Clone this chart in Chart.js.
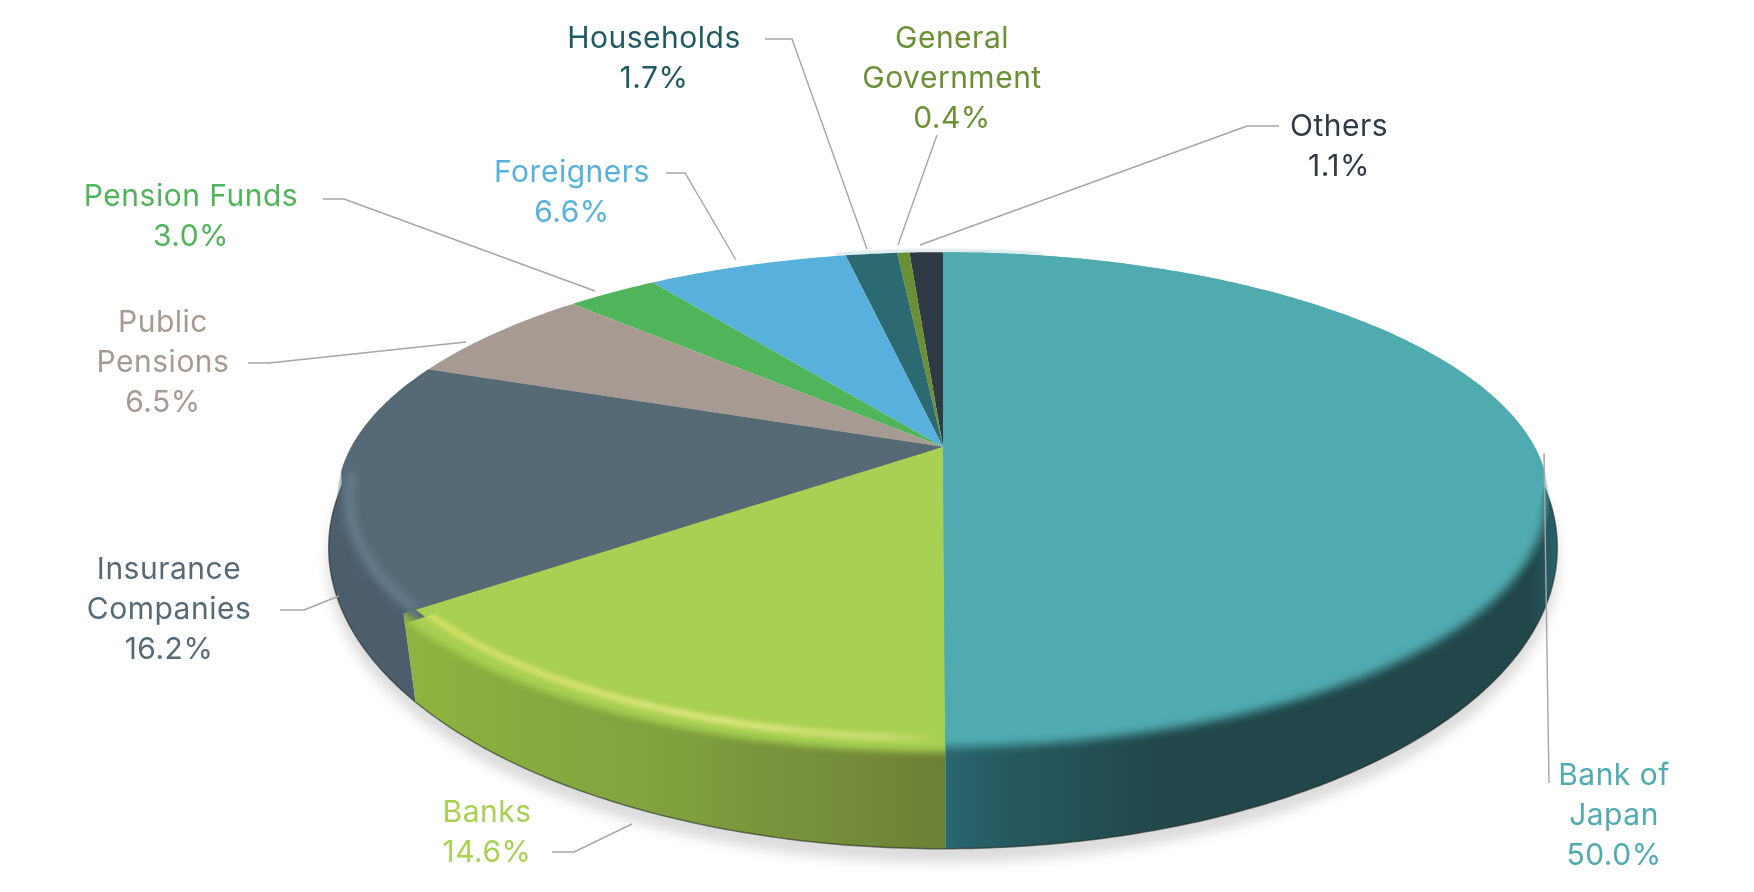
<!DOCTYPE html>
<html>
<head>
<meta charset="utf-8">
<title>JGB holders</title>
<script src="https://cdn.jsdelivr.net/npm/chart.js@4/dist/chart.umd.js"></script>
<style>
  html, body { margin: 0; padding: 0; background: #fff; }
  canvas { display: block; }
</style>
</head>
<body>
<canvas id="graficoTenedores" width="1754" height="892"></canvas>
<script>
const categorias = ['Bank of Japan', 'Banks', 'Insurance Companies', 'Public Pensions', 'Pension Funds', 'Foreigners', 'Households', 'General Government', 'Others'];
const valores = [50.0, 14.6, 16.2, 6.5, 3.0, 6.6, 1.7, 0.4, 1.1];
const coloresCara = ['#4fabaf', '#a8d052', '#566a76', '#a69a92', '#4fb45a', '#58b0dc', '#2c6a72', '#6b8f35', '#2f3a45'];
const coloresTexto = ['#4fabaf', '#a8d052', '#566a76', '#a69a92', '#4fb45a', '#58b0dc', '#1f5a60', '#6b8f35', '#2f3a45'];

// lineas de cada etiqueta y su sitio: x centro, y de la primera linea
const lineasEtiqueta = [['Bank of', 'Japan', '50.0%'], ['Banks', '14.6%'], ['Insurance', 'Companies', '16.2%'], ['Public', 'Pensions', '6.5%'], ['Pension Funds', '3.0%'], ['Foreigners', '6.6%'], ['Households', '1.7%'], ['General', 'Government', '0.4%'], ['Others', '1.1%']];
const sitioEtiqueta = [[1614, 785], [487, 822], [169, 579], [163, 332], [191, 206], [572, 182], [654, 48], [952, 48], [1339, 136]];
const lineasGuia = [
  [[1544, 453], [1549, 783]],
  [[552, 852], [574, 852], [632, 824]],
  [[280, 610], [304, 610], [339, 596]],
  [[248, 363], [269, 363], [466, 342]],
  [[323, 199], [344, 199], [595, 291]],
  [[666, 173], [685, 173], [736, 260]],
  [[765, 39], [792, 39], [867, 249]],
  [[937, 135], [898, 245]],
  [[1279, 126], [1247, 126], [920, 245]]
];

// perspectiva de la tarta, en fracciones del radio que da Chart.js
const K = -0.2153;
const CARA = { a: 1.327, b: 0.531, dy: 1 };
const BASE = { a: 1.345, b: 0.6435, dy: 37 };

function proyectar(arco, forma, t, escala = 1) {
  const u = Math.sin(t) * escala;
  const v = -Math.cos(t) * escala;
  const d = 1 + K * v;
  return {
    x: arco.x + arco.outerRadius * forma.a * u / d,
    y: arco.y + forma.dy + arco.outerRadius * forma.b * v / d
  };
}

function trazarArco(ctx, arco, forma, t0, t1, escala = 1, seguir = false) {
  const pasos = Math.max(2, Math.ceil(Math.abs(t1 - t0) * 90));
  for (let i = 0; i <= pasos; i++) {
    const p = proyectar(arco, forma, t0 + (t1 - t0) * i / pasos, escala);
    if (i === 0 && !seguir) ctx.moveTo(p.x, p.y);
    else ctx.lineTo(p.x, p.y);
  }
}

function angulos(arco) {
  return [arco.startAngle + Math.PI / 2, arco.endAngle + Math.PI / 2];
}

// angulo en la base casi debajo del angulo t de la cara (la arista cae un poco hacia dentro)
function anguloBase(arco, t) {
  if (t < Math.PI * 0.75 || t > Math.PI * 1.45) return t;
  const x = proyectar(arco, CARA, t).x + (Math.abs(t - Math.PI) > 0.01 ? 12 : 0);
  let lo = Math.PI * 0.5, hi = Math.PI * 1.5;
  for (let i = 0; i < 24; i++) {
    const m = (lo + hi) / 2;
    if (proyectar(arco, BASE, m).x > x) lo = m;
    else hi = m;
  }
  return (lo + hi) / 2;
}

function dibujarSombra(ctx, arcos) {
  ctx.save();
  ctx.filter = 'blur(6px)';
  ctx.fillStyle = '#dcdcdc';
  ctx.translate(0, 13);
  ctx.beginPath();
  trazarArco(ctx, arcos[0], BASE, Math.PI * 0.45, Math.PI * 1.55, 1.002);
  ctx.closePath();
  ctx.fill();
  ctx.restore();
}

function gradientePared(ctx, x0, x1, paradas) {
  const g = ctx.createLinearGradient(x0, 0, x1, 0);
  paradas.forEach(([pos, color]) => g.addColorStop(pos, color));
  return g;
}

function dibujarParedes(ctx, arcos) {
  const pintura = [
    gradientePared(ctx, 943, 1556, [[0, '#2a6870'], [0.1, '#25595f'], [0.35, '#22484c'], [0.96, '#22474b'], [1, '#27616a']]),
    gradientePared(ctx, 405, 943, [[0, '#8fb440'], [0.5, '#80a03e'], [1, '#6c8037']]),
    '#4c5d6c'
  ];
  ctx.save();
  // detras la base asomaria por encima de la cara
  ctx.beginPath();
  ctx.rect(0, 300, 1754, 592);
  ctx.clip();
  for (let i = 2; i >= 0; i--) {
    const [t0, t1] = angulos(arcos[i]);
    const b0 = anguloBase(arcos[i], t0);
    const b1 = anguloBase(arcos[i], t1);
    const ini = proyectar(arcos[i], CARA, t0);
    const fin = proyectar(arcos[i], CARA, t1);
    ctx.beginPath();
    ctx.moveTo(ini.x, ini.y);
    trazarArco(ctx, arcos[i], CARA, t0, t1, 0.95, true);
    ctx.lineTo(fin.x, fin.y);
    trazarArco(ctx, arcos[i], BASE, b1, b0, 1, true);
    ctx.closePath();
    ctx.fillStyle = pintura[i];
    ctx.fill();
    ctx.beginPath();
    trazarArco(ctx, arcos[i], BASE, b0, b1);
    ctx.strokeStyle = 'rgba(25,35,25,0.55)';
    ctx.lineWidth = 1.5;
    ctx.stroke();
  }
  ctx.restore();
}

// cara nitida: borde entero detras y en los lados, algo encogido al frente
function trazarCaraNitida(ctx, arco, t0, t1, encogido) {
  ctx.beginPath();
  ctx.moveTo(arco.x, arco.y + CARA.dy);
  const pasos = Math.ceil((t1 - t0) * 90);
  for (let i = 0; i <= pasos; i++) {
    const t = t0 + (t1 - t0) * i / pasos;
    const mezcla = Math.min(1, Math.max(0, (-Math.cos(t) - 0.1) / 0.3));
    const p = proyectar(arco, CARA, t, 1 - encogido * mezcla);
    ctx.lineTo(p.x, p.y);
  }
  ctx.closePath();
}

function recortarSector(ctx, arco, t0, t1) {
  ctx.beginPath();
  ctx.moveTo(arco.x, arco.y + CARA.dy);
  const pasos = Math.ceil((t1 - t0) * 90);
  for (let i = 0; i <= pasos; i++) {
    const t = t0 + (t1 - t0) * i / pasos;
    const p = proyectar(arco, CARA, t);
    ctx.lineTo(p.x, p.y + 20 * Math.max(0, -Math.cos(t) - 0.1));
  }
  ctx.closePath();
  ctx.clip();
}

function trazoBrillo(ctx, arco, t0, t1, escala, color, ancho, desenfoque) {
  ctx.save();
  ctx.filter = 'blur(' + desenfoque + 'px)';
  ctx.beginPath();
  trazarArco(ctx, arco, CARA, t0, t1, escala);
  ctx.strokeStyle = color;
  ctx.lineWidth = ancho;
  ctx.stroke();
  ctx.restore();
}

function dibujarCara(ctx, arco, i) {
  const [t0, t1] = angulos(arco);
  ctx.fillStyle = coloresCara[i];
  trazarCaraNitida(ctx, arco, t0, t1, i === 1 ? 0.02 : 0.035);
  ctx.fill();

  // borde suave contra la pared
  ctx.save();
  recortarSector(ctx, arco, t0, t1);
  if (i < 3) {
    ctx.filter = i === 1 ? 'blur(3.5px)' : 'blur(5px)';
    ctx.beginPath();
    trazarArco(ctx, arco, CARA, 0, Math.PI * 2, i === 1 ? 1.008 : 0.995);
    ctx.closePath();
    ctx.fill();
    ctx.filter = 'none';
  }
  if (i === 1) {
    const brillo = ctx.createLinearGradient(405, 0, 943, 0);
    brillo.addColorStop(0, '#d2de62');
    brillo.addColorStop(0.6, '#dde67c');
    brillo.addColorStop(0.9, '#c9dc6c');
    brillo.addColorStop(1, 'rgba(200,220,100,0)');
    trazoBrillo(ctx, arco, t1, t0, 0.972, brillo, 7, 2.5);
  }
  if (i === 2) {
    trazoBrillo(ctx, arco, 4.6, t0, 0.98, 'rgba(111,135,151,0.55)', 10, 3);
  }
  ctx.restore();
}

function dibujarCaras(ctx, arcos) {
  // de atras hacia delante, para que la extension del borde no pise al vecino
  for (let i = arcos.length - 1; i >= 0; i--) dibujarCara(ctx, arcos[i], i);
}

// franja palida que asoma detras del borde superior
function dibujarFranja(ctx, arco) {
  ctx.save();
  ctx.filter = 'blur(1px)';
  ctx.strokeStyle = 'rgba(120,170,175,0.3)';
  ctx.lineWidth = 3;
  ctx.beginPath();
  trazarArco(ctx, arco, CARA, -0.22, 0.2, 1.01);
  ctx.stroke();
  ctx.restore();
}

function dibujarGuias(ctx) {
  ctx.save();
  ctx.strokeStyle = '#a6a6a6';
  ctx.lineWidth = 1.4;
  lineasGuia.forEach(puntos => {
    ctx.beginPath();
    puntos.forEach(([x, y], i) => (i === 0 ? ctx.moveTo(x, y) : ctx.lineTo(x, y)));
    ctx.stroke();
  });
  ctx.restore();
}

function dibujarEtiquetas(ctx) {
  ctx.save();
  ctx.font = '400 30px Inter';
  ctx.textAlign = 'center';
  ctx.textBaseline = 'alphabetic';
  ctx.letterSpacing = '0.5px';
  lineasEtiqueta.forEach((lineas, i) => {
    ctx.fillStyle = coloresTexto[i];
    lineas.forEach((texto, n) => {
      ctx.fillText(texto, sitioEtiqueta[i][0], sitioEtiqueta[i][1] + n * 40);
    });
  });
  ctx.restore();
}

const tarta3d = {
  id: 'tarta3d',
  beforeDatasetDraw(chart) {
    const ctx = chart.ctx;
    const arcos = chart.getDatasetMeta(0).data;
    dibujarSombra(ctx, arcos);
    dibujarFranja(ctx, arcos[0]);
    dibujarParedes(ctx, arcos);
    dibujarCaras(ctx, arcos);
    return false;
  },
  afterDraw(chart) {
    dibujarGuias(chart.ctx);
    dibujarEtiquetas(chart.ctx);
  }
};

new Chart(document.getElementById('graficoTenedores').getContext('2d'), {
  type: 'pie',
  data: {
    labels: categorias,
    datasets: [{ data: valores, backgroundColor: coloresCara, borderWidth: 0 }]
  },
  options: {
    responsive: false,
    animation: false,
    layout: { padding: { left: 132 } },
    plugins: { legend: { display: false }, tooltip: { enabled: false } }
  },
  plugins: [tarta3d]
});
</script>
</body>
</html>
